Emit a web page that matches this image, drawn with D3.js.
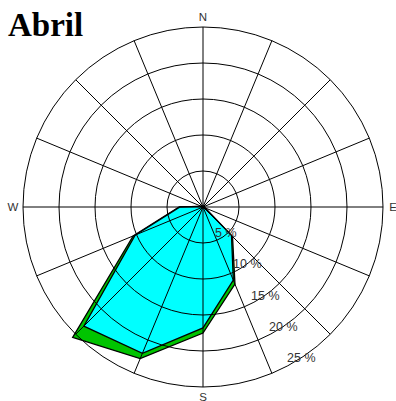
<!DOCTYPE html>
<html>
<head>
<meta charset="utf-8">
<script src="https://cdn.jsdelivr.net/npm/d3@7"></script>
<style>
  body { margin: 0; background: #fff; }
  svg { display: block; }
</style>
</head>
<body>
<div id="rose"></div>
<script>
// wind directions, clockwise from north
const directions = ["N", "NNE", "NE", "ENE", "E", "ESE", "SE", "SSE",
                    "S", "SSW", "SW", "WSW", "W", "WNW", "NW", "NNW"];
// frequency (%) of the lower speed class (cyan)
const lowClass = [0, 0, 0, 0, 0.2, 0.3, 5.6, 11.0, 16.8, 22.0, 23.4, 10.2, 3.2, 0.2, 0, 0];
// total frequency (%) of all classes (green)
const totalClass = [0, 0, 0, 0, 0.2, 0.3, 5.8, 11.6, 17.5, 22.8, 25.6, 10.5, 3.3, 0.2, 0, 0];
const ringTicks = [5, 10, 15, 20, 25];
const compass = ["N", "E", "S", "W"];

const width = 396, height = 401;
const cx = 203, cy = 207, outer = 180;

const svg = d3.select("#rose")
  .append("svg")
    .attr("width", width)
    .attr("height", height);

// title
svg.append("text")
  .attr("x", 8)
  .attr("y", 36)
  .style("font-family", "'Liberation Serif', 'Times New Roman', serif")
  .style("font-weight", "bold")
  .style("font-size", "33px")
  .text("Abril");

const g = svg.append("g")
  .attr("transform", "translate(" + cx + "," + cy + ")");

const r = d3.scaleLinear().domain([0, 25]).range([0, outer]);
const angle = d3.scaleLinear().domain([0, directions.length]).range([0, 2 * Math.PI]);

const radial = d3.lineRadial()
  .angle(function(d, i) { return angle(i); })
  .radius(function(d) { return r(d); })
  .curve(d3.curveLinearClosed);

// total first, the low class on top of it
g.append("path")
  .datum(totalClass)
  .attr("d", radial)
  .attr("fill", "#00c400")
  .attr("stroke", "#000")
  .attr("stroke-width", 1.3);

g.append("path")
  .datum(lowClass)
  .attr("d", radial)
  .attr("fill", "#00ffff")
  .attr("stroke", "#000")
  .attr("stroke-width", 1.3);

// rings
g.selectAll(".ring")
  .data(ringTicks)
  .enter().append("circle")
    .attr("class", "ring")
    .attr("r", function(d) { return r(d); })
    .attr("fill", "none")
    .attr("stroke", "#000")
    .attr("stroke-width", 1);

// spokes
g.selectAll(".spoke")
  .data(directions)
  .enter().append("line")
    .attr("class", "spoke")
    .attr("x1", 0)
    .attr("y1", 0)
    .attr("x2", function(d, i) { return outer * Math.sin(angle(i)); })
    .attr("y2", function(d, i) { return -outer * Math.cos(angle(i)); })
    .attr("stroke", "#000")
    .attr("stroke-width", 1);

// ring labels along the 150 degree bearing
const labelAngle = 150 * Math.PI / 180;
g.selectAll(".ringLabel")
  .data(ringTicks)
  .enter().append("text")
    .attr("class", "ringLabel")
    .attr("x", function(d) { return r(d) * Math.sin(labelAngle) - 6; })
    .attr("y", function(d) { return -r(d) * Math.cos(labelAngle) - 1; })
    .style("font-family", "'Liberation Sans', Arial, sans-serif")
    .style("font-size", "12.5px")
    .style("fill", "#333")
    .text(function(d) { return d + " %"; });

// compass letters
g.selectAll(".compass")
  .data(compass)
  .enter().append("text")
    .attr("class", "compass")
    .attr("x", function(d, i) { return 190 * Math.sin(i * Math.PI / 2); })
    .attr("y", function(d, i) { return -190 * Math.cos(i * Math.PI / 2); })
    .attr("text-anchor", "middle")
    .attr("dominant-baseline", "central")
    .style("font-family", "'Liberation Sans', Arial, sans-serif")
    .style("font-size", "11.5px")
    .style("fill", "#333")
    .text(function(d) { return d; });
</script>
</body>
</html>
